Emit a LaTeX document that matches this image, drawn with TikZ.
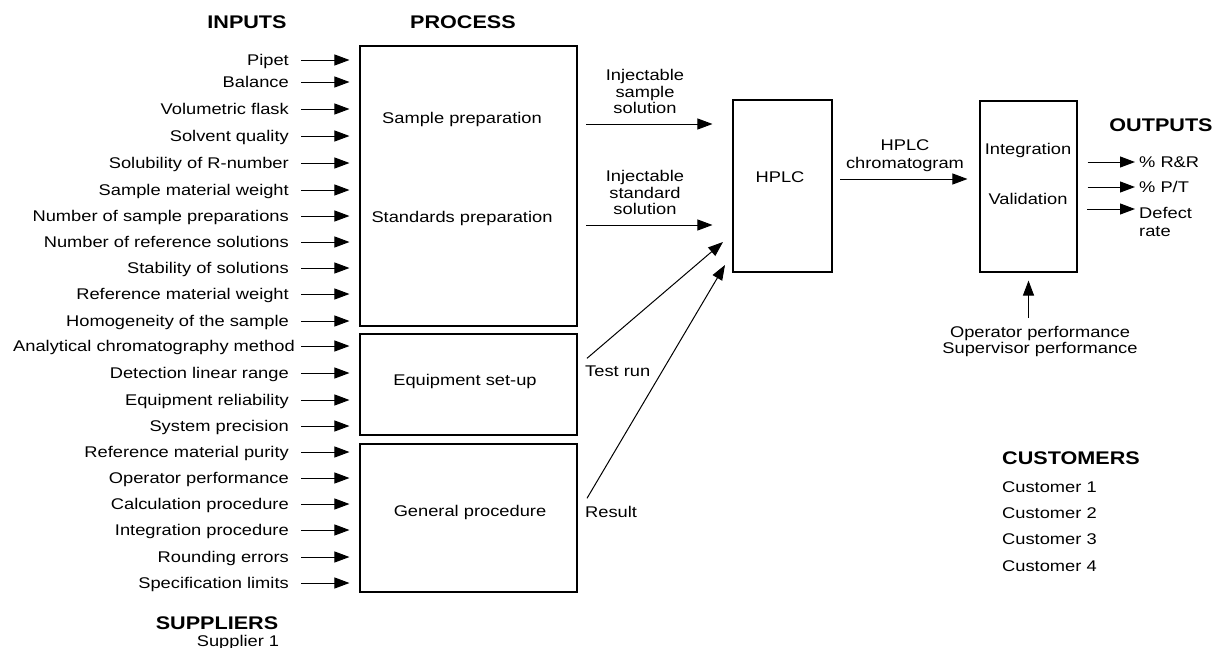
\documentclass[tikz,border=0pt]{standalone}
\usepackage{fontspec}
\setmainfont{Liberation Sans}[FakeStretch=1.18]
\usetikzlibrary{arrows.meta,calc}
\begin{document}
\begin{tikzpicture}[x=1pt,y=-1pt,
  txt/.style={inner sep=0pt,font=\fontsize{15.5}{16.5}\selectfont,text height=11pt,text depth=0pt},
  mtxt/.style={inner sep=0pt,align=center,anchor=north},
  lbl/.style={txt,anchor=east},
  hdr/.style={inner sep=0pt,font=\fontsize{18.3}{20}\selectfont\bfseries,text height=13pt,text depth=0pt},
  box/.style={draw,line width=1.1pt,minimum width=#1,inner sep=0pt},
  arr/.style={line width=1pt,-{Triangle[length=15pt,width=11pt]}}]
\useasboundingbox (0,0) rectangle (1213,648);
% headers
\node[hdr] (hin) at (247,22) {INPUTS};
\node[hdr] (hproc) at (463,22) {PROCESS};
\node[hdr] (hout) at (1161,125) {OUTPUTS};
\node[hdr,anchor=west] (hcust) at (1002,458) {CUSTOMERS};
\node[hdr] (hsup) at (217,623) {SUPPLIERS};
\node[txt] (sup1) at (238,641) {Supplier 1};
% customers
\node[txt,anchor=west] (c1) at (1002,487) {Customer 1};
\node[txt,anchor=west] (c2) at (1002,513) {Customer 2};
\node[txt,anchor=west] (c3) at (1002,539) {Customer 3};
\node[txt,anchor=west] (c4) at (1002,566) {Customer 4};
% process boxes
\node[box=217pt,minimum height=280pt] (pp) at (468.5,186) {};
\node[box=217pt,minimum height=101pt] (eq) at (468.5,384.5) {};
\node[box=217pt,minimum height=148pt] (gp) at (468.5,518) {};
\node[box=99pt,minimum height=172pt] (hplc) at (782.5,186) {};
\node[box=97pt,minimum height=171pt] (iv) at (1028.5,186.5) {};
% box texts
\node[txt] (tsp) at (462,118) {Sample preparation};
\node[txt] (tstd) at (462,217) {Standards preparation};
\node[txt] (teq) at (465,380) {Equipment set-up};
\node[txt] (tgp) at (470,511) {General procedure};
\node[txt] (thplc) at (780,177) {HPLC};
\node[txt] (tint) at (1028,149) {Integration};
\node[txt] (tval) at (1028,199) {Validation};
% inputs
\foreach \i/\t/\y/\b in {1/Pipet/60/pp, 2/Balance/82/pp, 3/Volumetric flask/109/pp,
  4/Solvent quality/136/pp, 5/Solubility of R-number/163/pp, 6/Sample material weight/190/pp,
  7/Number of sample preparations/216/pp, 8/Number of reference solutions/242/pp,
  9/Stability of solutions/268/pp, 10/Reference material weight/294/pp,
  11/Homogeneity of the sample/321/pp, 13/Detection linear range/373/eq,
  14/Equipment reliability/400/eq, 15/System precision/426/eq,
  16/Reference material purity/452/gp, 17/Operator performance/478/gp,
  18/Calculation procedure/504/gp, 19/Integration procedure/530/gp,
  20/Rounding errors/557/gp, 21/Specification limits/583/gp} {
  \node[lbl] (in\i) at (289,\y) {\t};
  \draw[arr] ([xshift=12pt]in\i.east) -- ([xshift=-10pt]\b.west |- in\i.east);
}
\node[lbl] (in12) at (295,346) {Analytical chromatography method};
\draw[arr] ([xshift=6pt]in12.east) -- ([xshift=-10pt]eq.west |- in12.east);
% injectable labels
\node[mtxt,font=\fontsize{15.5}{16.5}\selectfont] (ls) at (645,69.5) {Injectable\\sample\\solution};
\node[mtxt,font=\fontsize{15.5}{16.5}\selectfont] (lst) at (645,170.5) {Injectable\\standard\\solution};
\coordinate (s1) at (577,124);
\coordinate (s2) at (577,225);
\draw[arr,shorten <=9pt,shorten >=20pt] (s1) -- (hplc.west |- s1);
\draw[arr,shorten <=9pt,shorten >=20pt] (s2) -- (hplc.west |- s2);
% test run and result
\node[txt,anchor=west] (trun) at (585,371) {Test run};
\node[txt,anchor=west] (res) at (585,512) {Result};
\coordinate (tip1) at (723,242);
\coordinate (tip2) at (725,265);
\draw[arr] ([xshift=2pt,yshift=7pt]trun.north west) -- (tip1);
\draw[arr] ([xshift=2pt,yshift=8pt]res.north west) -- (tip2);
% chromatogram
\node[mtxt,font=\fontsize{15.5}{18}\selectfont] (lch) at (905,139.5) {HPLC\\chromatogram};
\coordinate (ch) at (832,179);
\draw[arr,shorten <=8pt,shorten >=12pt] (ch) -- (iv.west |- ch);
% outputs
\node[txt,anchor=west] (rr) at (1139,162) {\% R\&R};
\node[txt,anchor=west] (pt) at (1139,187) {\% P/T};
\node[mtxt,anchor=north west,align=left,font=\fontsize{15.5}{18}\selectfont] (dr) at (1139,207.5) {Defect\\rate};
\coordinate (d1) at (1077,209);
\draw[arr,shorten <=10pt,shorten >=4pt] (iv.east |- rr.west) -- (rr.west);
\draw[arr,shorten <=10pt,shorten >=4pt] (iv.east |- pt.west) -- (pt.west);
\draw[arr,shorten <=10pt,shorten >=4pt] (d1) -- (dr.west |- d1);
% operator / supervisor
\node[mtxt,font=\fontsize{15.5}{16}\selectfont] (op) at (1040,326.5) {Operator performance\\Supervisor performance};
\draw[arr,shorten <=8.5pt,shorten >=8pt] (iv.south |- op.north) -- (iv.south);
\end{tikzpicture}
\end{document}
